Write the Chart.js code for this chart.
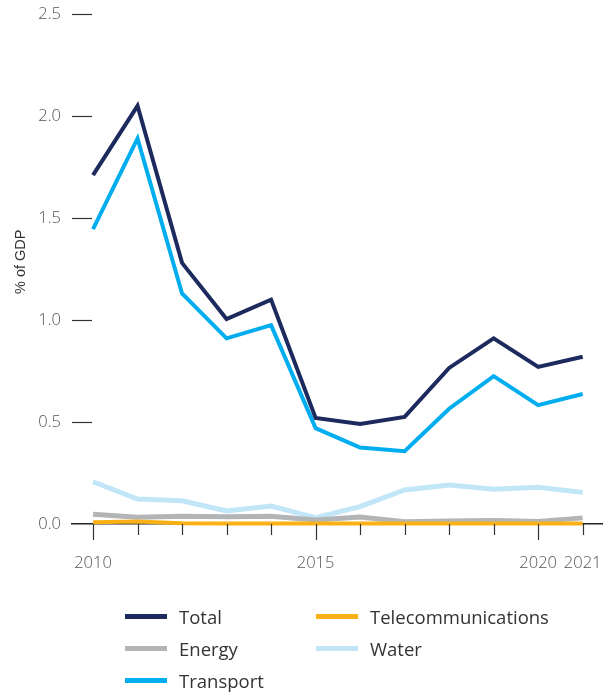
<!DOCTYPE html>
<html>
<head>
<meta charset="utf-8">
<script src="https://cdn.jsdelivr.net/npm/chart.js@4.4.1/dist/chart.umd.min.js"></script>
<style>
  html, body { margin: 0; padding: 0; background: #fff; }
  #wrap { position: relative; width: 612px; height: 694px; }
  #c { position: absolute; left: 0; top: 0; }
  #legend { position: absolute; left: 0; top: 0; width: 612px; height: 694px; pointer-events: none;
            font-family: "Open Sans", sans-serif; font-size: 18.5px; color: #333; }
  .item { position: absolute; display: flex; align-items: center; white-space: nowrap; }
  .sw { width: 42px; height: 5px; margin-right: 12px; }
</style>
</head>
<body>
<div id="wrap">
  <canvas id="c" width="612" height="590"></canvas>
  <div id="legend"></div>
</div>
<script>
const years = [2010, 2011, 2012, 2013, 2014, 2015, 2016, 2017, 2018, 2019, 2020, 2021];
const labeledYears = [2010, 2015, 2020, 2021];
const yTicks = [0, 0.5, 1.0, 1.5, 2.0, 2.5];

const total     = [1.71, 2.05, 1.28, 1.005, 1.10, 0.52, 0.49, 0.525, 0.765, 0.91, 0.77, 0.82];
const transport = [1.445, 1.89, 1.13, 0.91, 0.975, 0.47, 0.375, 0.357, 0.565, 0.725, 0.583, 0.637];
const water     = [0.207, 0.122, 0.114, 0.064, 0.088, 0.031, 0.085, 0.167, 0.191, 0.170, 0.180, 0.155];
const energy    = [0.048, 0.033, 0.038, 0.036, 0.038, 0.020, 0.034, 0.011, 0.015, 0.017, 0.012, 0.030];
const telecom   = [0.008, 0.012, 0.004, 0.003, 0.003, 0.003, 0.003, 0.003, 0.003, 0.003, 0.003, 0.003];

const seriesNames  = ['Total', 'Transport', 'Telecommunications', 'Energy', 'Water'];
const seriesValues = [total, transport, telecom, energy, water];
const seriesColors = ['#1d2a5e', '#00aeef', '#fbb116', '#b2b4b5', '#c0e6f8'];
const seriesWidths = [4, 4, 4, 5, 5];

const legendLayout = [
  ['Total', 0, 0], ['Energy', 0, 1], ['Transport', 0, 2],
  ['Telecommunications', 1, 0], ['Water', 1, 1]
];

const datasets = seriesNames.map((n, i) => ({
  label: n,
  data: years.map((y, k) => ({ x: y, y: seriesValues[i][k] })),
  borderColor: seriesColors[i],
  backgroundColor: seriesColors[i],
  borderWidth: seriesWidths[i],
  pointRadius: 0,
  tension: 0,
  clip: false,
  borderJoinStyle: 'miter',
  borderCapStyle: 'butt'
}));

const tickFont = { family: '"Open Sans", sans-serif', size: 16.5, weight: 300 };

const marks = {
  id: 'marks',
  afterDraw(chart) {
    const ctx = chart.ctx, xs = chart.scales.x, ys = chart.scales.y;
    ctx.save();
    ctx.strokeStyle = '#333';
    ctx.lineWidth = 1.2;
    const y0 = ys.getPixelForValue(0);
    years.forEach(yr => {
      const px = Math.round(xs.getPixelForValue(yr)) + 0.5;
      const len = (labeledYears.includes(yr) && yr !== 2021) ? 16 : 11;
      ctx.beginPath(); ctx.moveTo(px, y0); ctx.lineTo(px, y0 + len); ctx.stroke();
    });
    yTicks.forEach(v => {
      if (v === 0) return;
      const py = Math.round(ys.getPixelForValue(v)) + 0.5;
      ctx.beginPath(); ctx.moveTo(72, py); ctx.lineTo(92, py); ctx.stroke();
    });
    ctx.restore();
  }
};

new Chart(document.getElementById('c'), {
  type: 'line',
  data: { datasets },
  options: {
    responsive: false,
    animation: false,
    events: [],
    layout: { padding: { left: 0, right: 10, top: 14, bottom: 0 } },
    plugins: { legend: { display: false }, tooltip: { enabled: false } },
    scales: {
      x: {
        type: 'linear',
        min: 2009.528,
        max: 2021.434,
        afterBuildTicks: s => { s.ticks = years.map(v => ({ value: v })); },
        afterFit: s => { s.height = 66; s.paddingLeft = 0; s.paddingRight = 0; },
        grid: { display: false, drawTicks: false },
        border: { display: true, color: '#222', width: 1.5 },
        ticks: {
          autoSkip: false, maxRotation: 0, padding: 29,
          color: '#555', font: tickFont,
          callback: v => labeledYears.includes(v) ? String(v) : ''
        }
      },
      y: {
        min: 0, max: 2.5,
        afterBuildTicks: s => { s.ticks = yTicks.map(v => ({ value: v })); },
        afterFit: s => { s.width = 72; s.paddingTop = 0; s.paddingBottom = 0; },
        grid: { display: false, drawTicks: false },
        border: { display: false },
        ticks: {
          padding: 11, color: '#555', font: tickFont,
          callback: v => v.toFixed(1)
        },
        title: {
          display: true, text: '\u2003% of GDP', color: '#333',
          font: { family: '"Liberation Sans", Arial, sans-serif', size: 14.5 },
          padding: { top: 12, bottom: 0 }
        }
      }
    }
  },
  plugins: [marks]
});

const leg = document.getElementById('legend');
const colX = [125, 316], rowY = [616, 648, 680];
legendLayout.forEach(([name, col, row]) => {
  const i = seriesNames.indexOf(name);
  const d = document.createElement('div');
  d.className = 'item';
  d.style.left = colX[col] + 'px';
  d.style.top = (rowY[row] - 12) + 'px';
  d.style.height = '24px';
  const sw = document.createElement('span');
  sw.className = 'sw';
  sw.style.background = seriesColors[i];
  const t = document.createElement('span');
  t.textContent = name;
  d.appendChild(sw); d.appendChild(t);
  leg.appendChild(d);
});
</script>
</body>
</html>
